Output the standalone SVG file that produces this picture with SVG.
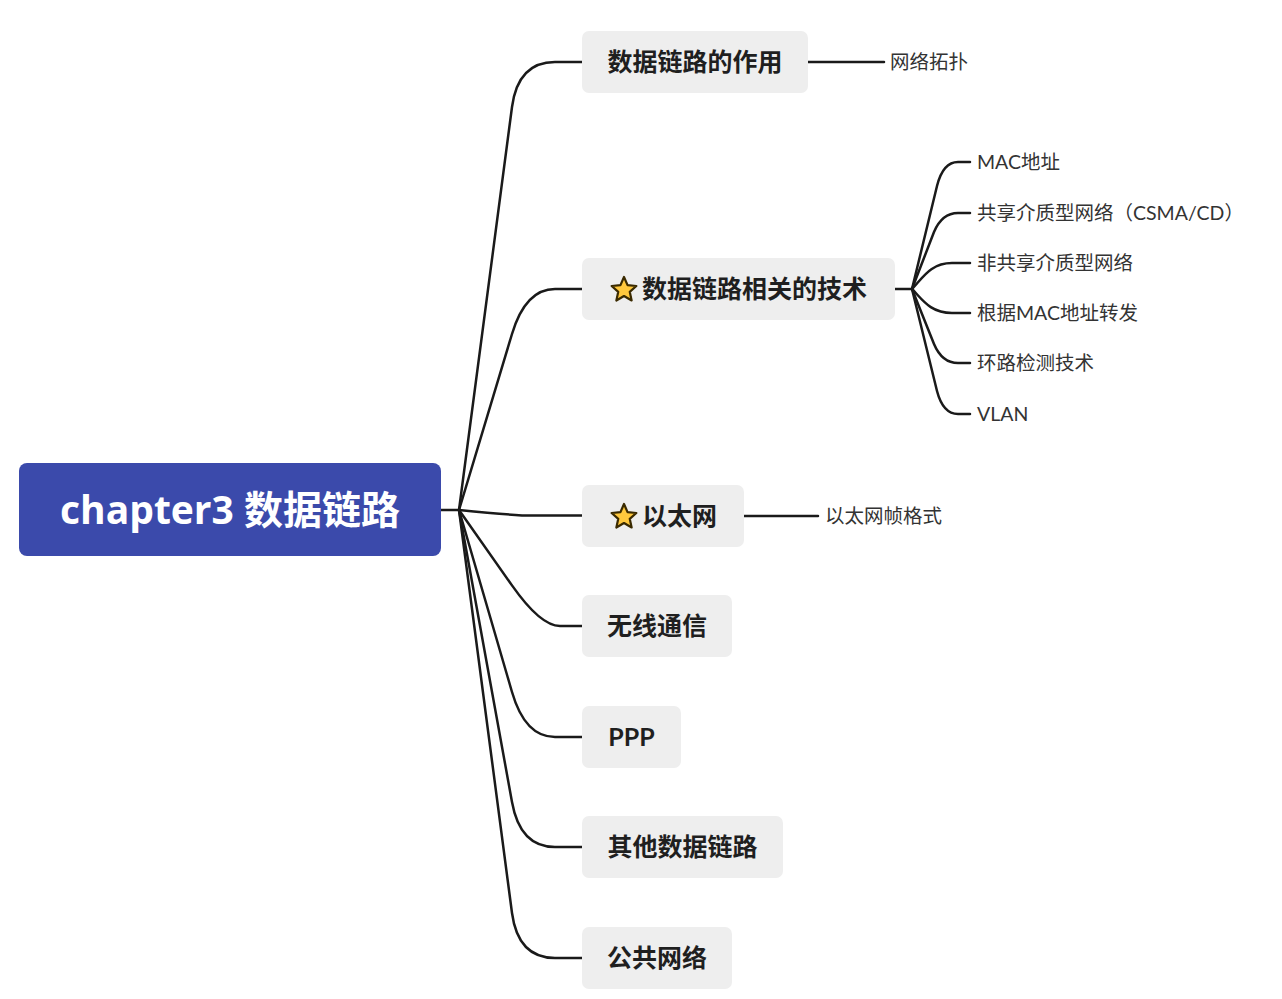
<svg xmlns="http://www.w3.org/2000/svg" width="1282" height="999" viewBox="0 0 1282 999">
<style>
.c{fill:none;stroke:#1a1a1a;stroke-width:2.5;stroke-linecap:round;stroke-linejoin:round}
.n1{fill:#eeeeee}
.t1{font-family:"Lato","Noto Sans CJK SC",sans-serif;font-size:25px;font-weight:bold;fill:#1f1f1f}
.t2{font-family:"Lato","Noto Sans CJK SC",sans-serif;font-size:19.5px;fill:#333333}
.star{fill:#FFC83D;stroke:#3a2a00;stroke-width:2.2;stroke-linejoin:round}
</style>
<defs>
<polygon id="star" class="star" points="0,-13 3.55,-4.88 12.36,-4.02 5.74,1.86 7.64,10.52 0,6 -7.64,10.52 -5.74,1.86 -12.36,-4.02 -3.55,-4.88"/>
</defs>
<rect width="1282" height="999" fill="#ffffff"/>
<g id="connectors">
<path class="c" d="M441,510 H459"/>
<path class="c" d="M459,510 L512,107 Q518,62 555,62 H582"/>
<path class="c" d="M459,510 L512,334 Q525.5,289 555,289 H582"/>
<path class="c" d="M459,510 Q500,514 522,515.5 H582"/>
<path class="c" d="M459,510 L512,585.4 Q540.5,626 560,626 H582"/>
<path class="c" d="M459,510 L512,692 Q525,737 555,737 H582"/>
<path class="c" d="M459,510 L512,802 Q520,847 555,847 H582"/>
<path class="c" d="M459,510 L512,913 Q518,958 555,958 H582"/>
<path class="c" d="M808,62 H884"/>
<path class="c" d="M744,516 H818"/>
<path class="c" d="M895,289 H912"/>
<path class="c" d="M912,289 L937,186 Q943,162 958,162 H970"/>
<path class="c" d="M912,289 L934,232 Q942,213 958,213 H970"/>
<path class="c" d="M912,289 C922,279 930,263 952,263 H970"/>
<path class="c" d="M912,289 C922,299 930,313 952,313 H970"/>
<path class="c" d="M912,289 L934,344 Q942,363 958,363 H970"/>
<path class="c" d="M912,289 L937,391 Q943,414 958,414 H970"/>
</g>
<g id="root">
<rect x="19" y="463" width="422" height="93" rx="8" fill="#3B4AAB"/>
<text x="230" y="523.5" text-anchor="middle" font-family="'Open Sans','Noto Sans CJK SC',sans-serif" font-size="39" font-weight="bold" fill="#ffffff">chapter3 数据链路</text>
</g>
<g id="n-role">
<rect class="n1" x="582" y="31" width="226" height="62" rx="7"/>
<text class="t1" x="695" y="71" text-anchor="middle">数据链路的作用</text>
</g>
<g id="n-tech">
<rect class="n1" x="582" y="258" width="313" height="62" rx="7"/>
<use href="#star" x="624" y="290"/>
<text class="t1" x="642" y="298">数据链路相关的技术</text>
</g>
<g id="n-eth">
<rect class="n1" x="582" y="485" width="162" height="62" rx="7"/>
<use href="#star" x="624" y="517"/>
<text class="t1" x="642" y="525">以太网</text>
</g>
<g id="n-wireless">
<rect class="n1" x="582" y="595" width="150" height="62" rx="7"/>
<text class="t1" x="657" y="635" text-anchor="middle">无线通信</text>
</g>
<g id="n-ppp">
<rect class="n1" x="582" y="706" width="99" height="62" rx="7"/>
<text class="t1" x="631.5" y="746" text-anchor="middle" font-weight="600">PPP</text>
</g>
<g id="n-other">
<rect class="n1" x="582" y="816" width="201" height="62" rx="7"/>
<text class="t1" x="682.5" y="856" text-anchor="middle">其他数据链路</text>
</g>
<g id="n-public">
<rect class="n1" x="582" y="927" width="150" height="62" rx="7"/>
<text class="t1" x="657" y="967" text-anchor="middle">公共网络</text>
</g>
<g id="n-topo"><text class="t2" x="890" y="69">网络拓扑</text></g>
<g id="n-ethframe"><text class="t2" x="825" y="523">以太网帧格式</text></g>
<g id="n-mac"><text class="t2" x="977" y="169">MAC地址</text></g>
<g id="n-csma"><text class="t2" x="977" y="220">共享介质型网络（CSMA/CD）</text></g>
<g id="n-noncsma"><text class="t2" x="977" y="270">非共享介质型网络</text></g>
<g id="n-fwd"><text class="t2" x="977" y="320">根据MAC地址转发</text></g>
<g id="n-loop"><text class="t2" x="977" y="370">环路检测技术</text></g>
<g id="n-vlan"><text class="t2" x="977" y="421">VLAN</text></g>
</svg>
